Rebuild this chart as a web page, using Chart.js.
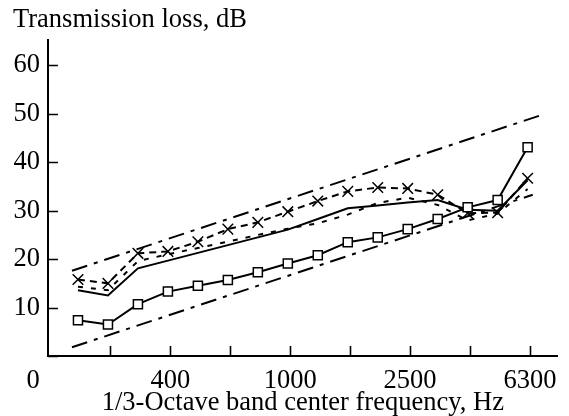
<!DOCTYPE html>
<html>
<head>
<meta charset="utf-8">
<script src="https://cdn.jsdelivr.net/npm/chart.js@4/dist/chart.umd.min.js"></script>
<style>
  html, body { margin: 0; padding: 0; background: #fff; }
  canvas { display: block; }
</style>
</head>
<body>
<canvas id="tl" width="569" height="416"></canvas>
<script>
// 1/3-octave band centres (Hz), one point per band, plotted at band index 0..15
const bands = ['200', '250', '315', '400', '500', '630', '800', '1000',
               '1250', '1600', '2000', '2500', '3150', '4000', '5000', '6300'];

// Transmission loss, dB
const measuredTL = [7.4, 6.5, 10.7, 13.3, 14.5, 15.7, 17.3, 19.1,
                    20.8, 23.5, 24.5, 26.2, 28.3, 30.7, 32.2, 43.1];
const crossTL    = [15.8, 15.0, 21.2, 21.6, 23.6, 26.2, 27.6, 29.8,
                    32.0, 34.0, 34.8, 34.6, 33.3, 29.5, 29.6, 36.7];
const solidTL    = [13.6, 12.5, 18.1, 19.7, 21.3, 22.9, 24.5, 26.1,
                    28.3, 30.5, 31.1, 31.7, 32.2, 30.2, 30.0, 36.3];
const dottedTL   = [14.3, 13.6, 19.6, 21.0, 22.3, 23.6, 25.0, 26.3,
                    27.4, 29.2, 31.6, 32.7, 31.2, 28.0, 29.4, 34.5];

// Straight reference lines: [start, end] in band-index units and dB
const upperLineX = [-0.2, 15.43];
const upperLineY = [17.6, 49.7];
const lowerLineX = [-0.2, 15.17];
const lowerLineY = [1.8, 33.3];

// Axis ticks
const xTickPos    = [1.08, 3.08, 5.08, 7.08, 9.08, 11.08, 13.08, 15.08];
const xTickLabels = ['', '400', '', '1000', '', '2500', '', '6300'];
const yTickValues = [0, 10, 20, 30, 40, 50, 60];

const serif = 'Liberation Serif';
const fontSize = 26.5;
const toXY = (arr) => arr.map((v, i) => ({ x: i, y: v }));
const pairXY = (xs, ys) => xs.map((x, i) => ({ x: x, y: ys[i] }));

// Inward tick marks on both axes plus the origin label
const innerTicks = {
  id: 'innerTicks',
  afterDraw(chart) {
    const { ctx } = chart;
    const xs = chart.scales.x, ys = chart.scales.y;
    ctx.save();
    ctx.strokeStyle = '#000';
    ctx.lineWidth = 1.6;
    ctx.beginPath();
    yTickValues.forEach(v => {
      const py = Math.round(ys.getPixelForValue(v)) + 0.5;
      ctx.moveTo(xs.left, py);
      ctx.lineTo(xs.left + 10, py);
    });
    xTickPos.forEach(v => {
      const px = Math.round(xs.getPixelForValue(v)) + 0.5;
      ctx.moveTo(px, ys.bottom);
      ctx.lineTo(px, ys.bottom - 10);
    });
    ctx.stroke();
    ctx.fillStyle = '#000';
    ctx.font = fontSize + 'px "' + serif + '"';
    ctx.textAlign = 'center';
    ctx.textBaseline = 'middle';
    ctx.fillText('0', xs.left - 15, ys.bottom + 25);
    ctx.restore();
  }
};

new Chart(document.getElementById('tl'), {
  type: 'line',
  data: {
    datasets: [
      {
        data: toXY(measuredTL),
        borderColor: '#000', borderWidth: 2,
        pointStyle: 'rect', pointRadius: 6.4,
        pointBackgroundColor: '#fff', pointBorderColor: '#000', pointBorderWidth: 1.5
      },
      {
        data: toXY(crossTL),
        borderColor: '#000', borderWidth: 2, borderDash: [7, 5],
        pointStyle: 'crossRot', pointRadius: 7.5,
        pointBorderColor: '#000', pointBorderWidth: 1.5
      },
      {
        data: toXY(solidTL),
        borderColor: '#000', borderWidth: 2, pointRadius: 0
      },
      {
        data: toXY(dottedTL),
        borderColor: '#000', borderWidth: 2, borderDash: [5, 8], pointRadius: 0
      },
      {
        data: pairXY(upperLineX, upperLineY),
        borderColor: '#000', borderWidth: 2, borderDash: [16, 7, 4, 7], pointRadius: 0
      },
      {
        data: pairXY(lowerLineX, lowerLineY),
        borderColor: '#000', borderWidth: 2, borderDash: [16, 7, 4, 7], pointRadius: 0
      }
    ]
  },
  options: {
    responsive: false,
    animation: false,
    devicePixelRatio: 1,
    layout: { padding: { left: 13, right: 7, top: 0, bottom: 0 } },
    plugins: {
      legend: { display: false },
      tooltip: { enabled: false },
      title: {
        display: true,
        text: 'Transmission loss, dB',
        align: 'start',
        color: '#000',
        font: { family: serif, size: fontSize, weight: 'normal', lineHeight: 1.2 },
        padding: { top: 4, bottom: 4 }
      }
    },
    scales: {
      x: {
        type: 'linear',
        min: -1, max: 16,
        grid: { display: false, drawTicks: false },
        border: { display: true, color: '#000', width: 2 },
        afterBuildTicks: (s) => { s.ticks = xTickPos.map(v => ({ value: v })); },
        afterFit: (s) => { s.height = 60; },
        ticks: {
          autoSkip: false, maxRotation: 0, padding: 12, color: '#000',
          font: { family: serif, size: fontSize, lineHeight: 1.0 },
          callback: (v, i) => xTickLabels[i]
        },
        title: {
          display: true,
          text: '1/3-Octave band center frequency, Hz',
          color: '#000',
          font: { family: serif, size: fontSize, lineHeight: 1.0 },
          padding: { top: 0, bottom: 0 }
        }
      },
      y: {
        type: 'linear',
        min: 0, max: 65.3,
        grid: { display: false, drawTicks: false },
        border: { display: true, color: '#000', width: 2 },
        afterBuildTicks: (s) => { s.ticks = yTickValues.map(v => ({ value: v })); },
        afterFit: (s) => { s.width = 35; },
        ticks: {
          autoSkip: false, padding: 8, color: '#000',
          font: { family: serif, size: fontSize, lineHeight: 1.2 },
          callback: (v) => (v === 0 ? '' : String(v))
        }
      }
    }
  },
  plugins: [innerTicks]
});
</script>
</body>
</html>
